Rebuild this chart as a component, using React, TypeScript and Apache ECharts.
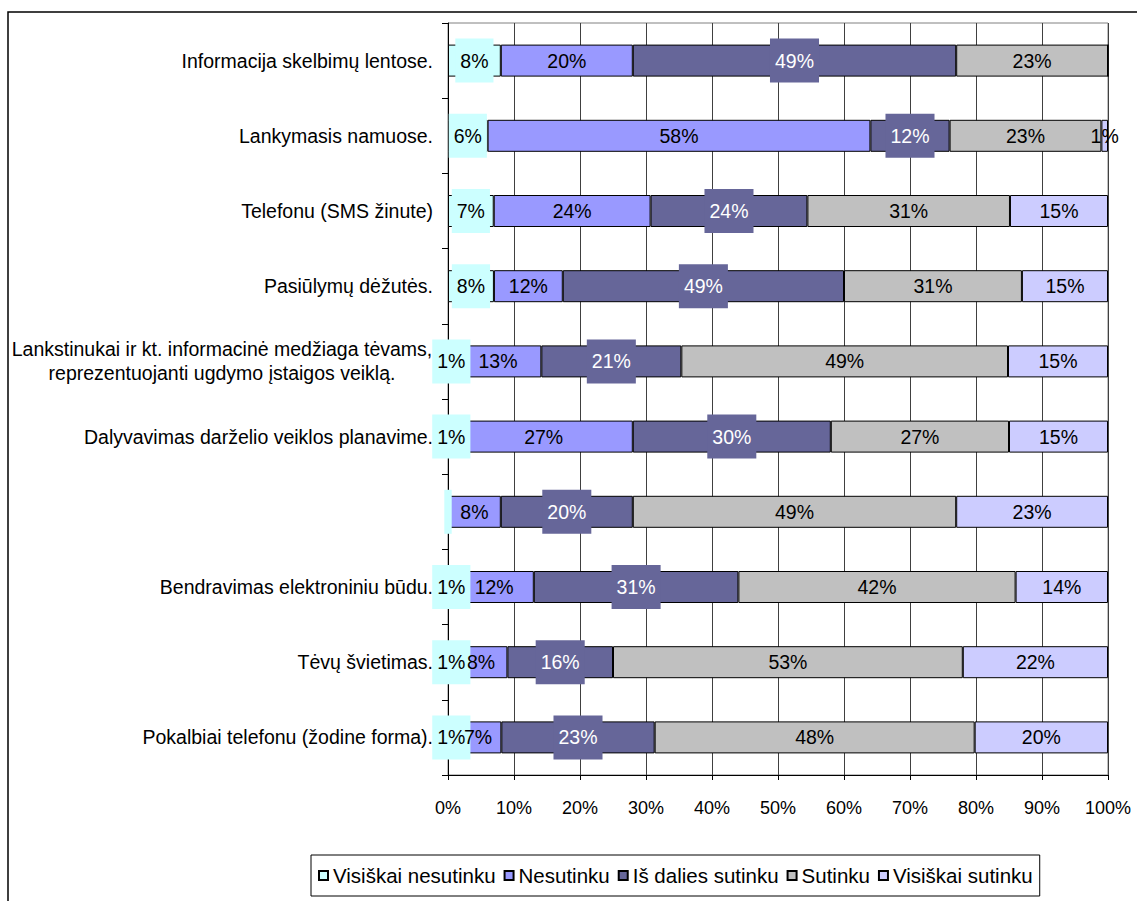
import React, { useEffect, useRef } from "react";
import * as echarts from "echarts";

const categories = [
  "Informacija skelbimų lentose.",
  "Lankymasis namuose.",
  "Telefonu (SMS žinute)",
  "Pasiūlymų dėžutės.",
  "Lankstinukai ir kt. informacinė medžiaga tėvams,\nreprezentuojanti ugdymo įstaigos veiklą.",
  "Dalyvavimas darželio veiklos planavime.",
  "",
  "Bendravimas elektroniniu būdu.",
  "Tėvų švietimas.",
  "Pokalbiai telefonu (žodine forma).",
];

const seriesNames = [
  "Visiškai nesutinku",
  "Nesutinku",
  "Iš dalies sutinku",
  "Sutinku",
  "Visiškai sutinku",
];

const visiskaiNesutinku = [8, 6, 7, 8, 1, 1, 0, 1, 1, 1];
const nesutinku = [20, 58, 24, 12, 13, 27, 8, 12, 8, 7];
const isDaliesSutinku = [49, 12, 24, 49, 21, 30, 20, 31, 16, 23];
const sutinku = [23, 23, 31, 31, 49, 27, 49, 42, 53, 48];
const visiskaiSutinku = [0, 1, 15, 15, 15, 15, 23, 14, 22, 20];

const colors = ["#CCFFFF", "#9999FF", "#666699", "#C0C0C0", "#CCCCFF"];
const labelBg = ["#CCFFFF", null, "#666699", null, null];
const labelColor = ["#000", "#000", "#fff", "#000", "#000"];

const FONT = "'Liberation Sans', Arial, sans-serif";

export default function App() {
  const ref = useRef<HTMLDivElement>(null);

  useEffect(() => {
    document.body.style.margin = "0";
    document.body.style.overflow = "hidden";
    const chart = echarts.init(ref.current!, null, { renderer: "svg" });
    const raw = [visiskaiNesutinku, nesutinku, isDaliesSutinku, sutinku, visiskaiSutinku];
    const totals = categories.map((_, i) => raw.reduce((s, arr) => s + arr[i], 0));

    const series = raw.map((arr, si) => ({
      name: seriesNames[si],
      type: "bar",
      stack: "total",
      barWidth: 32,
      itemStyle: { color: colors[si], borderColor: "#000", borderWidth: 1 },
      emphasis: { disabled: true },
      data: arr.map((v, i) => {
        const value = (v / totals[i]) * 100;
        if (v === 0 && labelBg[si]) {
          return { value, label: { padding: [12, 1] } };
        }
        return value;
      }),
      label: {
        show: true,
        position: "inside",
        fontFamily: FONT,
        fontSize: 19.5,
        lineHeight: 20,
        color: labelColor[si],
        backgroundColor: labelBg[si] || "transparent",
        padding: labelBg[si] ? [12, 5] : 0,
        formatter: (p: any) => {
          const r = arr[p.dataIndex];
          if (r === 0) return labelBg[si] ? " " : "";
          return r + "%";
        },
      },
    }));

    chart.setOption({
      animation: false,
      textStyle: { fontFamily: FONT },
      grid: {
        left: 448,
        right: 29,
        top: 23,
        bottom: 126,
        show: true,
        borderColor: "#808080",
        borderWidth: 1,
      },
      xAxis: {
        type: "value",
        min: 0,
        max: 100,
        interval: 10,
        axisLine: { show: true, lineStyle: { color: "#000", width: 1 } },
        axisTick: { show: true, length: 5, lineStyle: { color: "#000" } },
        splitLine: { show: true, lineStyle: { color: "#404040", width: 1 } },
        axisLabel: {
          formatter: "{value}%",
          fontSize: 18,
          color: "#000",
          fontFamily: FONT,
          margin: 24,
        },
      },
      yAxis: {
        type: "category",
        inverse: true,
        data: categories,
        axisLine: { show: true, lineStyle: { color: "#000", width: 1 } },
        axisTick: { show: true, length: 6, lineStyle: { color: "#000" } },
        axisLabel: {
          fontSize: 19.5,
          color: "#000",
          fontFamily: FONT,
          margin: 15,
          lineHeight: 24,
          formatter: (v: string) =>
            v.includes("\n")
              ? v
                  .split("\n")
                  .map((l) => `{c|${l}}`)
                  .join("\n")
              : v,
          rich: {
            c: {
              width: 422,
              align: "center",
              fontSize: 19.5,
              lineHeight: 24,
              color: "#000",
              fontFamily: FONT,
            },
          },
        },
      },
      legend: {
        left: 311,
        top: 855,
        orient: "horizontal",
        icon: "rect",
        itemWidth: 9,
        itemHeight: 9,
        itemGap: 8,
        borderColor: "#000",
        borderWidth: 1,
        padding: [10, 7, 10, 7],
        textStyle: { fontSize: 20.5, lineHeight: 21, color: "#000", fontFamily: FONT },
        data: seriesNames,
      },
      graphic: [
        {
          type: "rect",
          silent: true,
          shape: { x: 8, y: 12, width: 1300, height: 1000 },
          style: { fill: "none", stroke: "#000", lineWidth: 1.5 },
        },
      ],
      series,
    });
    return () => chart.dispose();
  }, []);

  return <div ref={ref} style={{ width: 1137, height: 901 }} />;
}
